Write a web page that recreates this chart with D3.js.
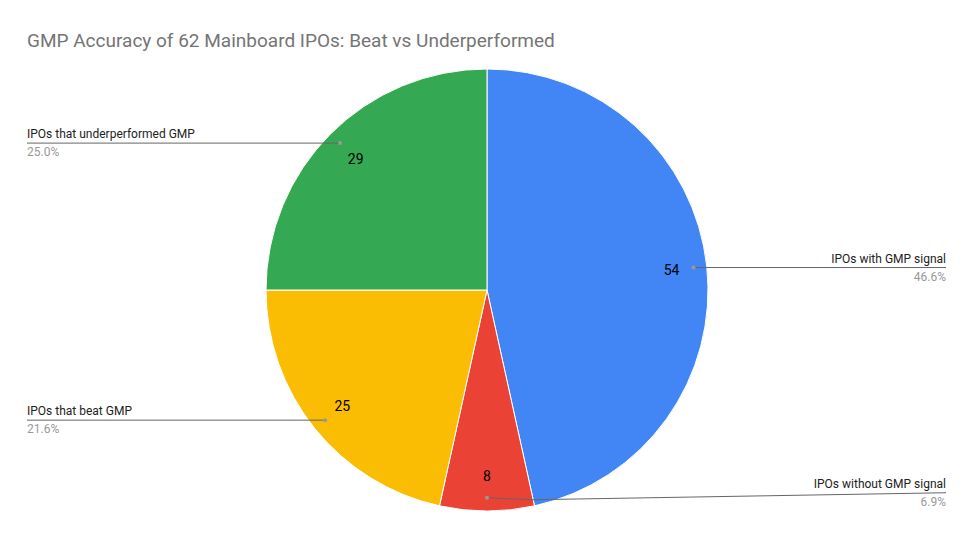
<!DOCTYPE html><html><head><meta charset="utf-8"><script src="https://cdn.jsdelivr.net/npm/d3@7"></script>
<style>body{margin:0;background:#fff}svg{font-family:Roboto,Arial,sans-serif}</style></head><body>
<svg id="c" width="974" height="538"></svg>
<script>
const categories=["IPOs with GMP signal","IPOs without GMP signal","IPOs that beat GMP","IPOs that underperformed GMP"];
const values=[54,8,25,29];
const percents=["46.6%","6.9%","21.6%","25.0%"];
const colors=["#4285f4","#ea4335","#fbbc04","#34a853"];
const svg=d3.select("#c");
svg.append("rect").attr("width",974).attr("height",538).attr("fill","#fff");
svg.append("text").attr("x",27).attr("y",47).attr("font-size",19).attr("fill","#757575").text("GMP Accuracy of 62 Mainboard IPOs: Beat vs Underperformed");
const cx=487,cy=290,R=221;
const g=svg.append("g").attr("transform",`translate(${cx},${cy})`);
const arcs=d3.pie().sort(null).value(d=>d)(values);
const arc=d3.arc().innerRadius(0).outerRadius(R);
g.selectAll("path").data(arcs).join("path").attr("d",arc).attr("fill",(d,i)=>colors[i]).attr("stroke","#fff").attr("stroke-width",1);
const pt=(d,k)=>{const a=(d.startAngle+d.endAngle)/2;return [Math.sin(a)*R*k,-Math.cos(a)*R*k];};
arcs.forEach((d,i)=>{
  const [vx,vy]=pt(d,0.84);
  g.append("text").attr("x",vx).attr("y",vy+5).attr("text-anchor","middle").attr("font-size",14).attr("fill","#000").text(values[i]);
  const [dx,dy]=pt(d,0.94);
  const right=dx>=0;
  const ly=i===1?dy-5:dy;
  const ex=right?946-cx:27-cx;
  g.append("polyline").attr("points",i===1?`${dx},${dy} ${dx+46},${dy+2} ${ex},${ly}`:`${dx},${dy} ${ex},${ly}`).attr("fill","none").attr("stroke","#666").attr("stroke-width",1);
  g.append("circle").attr("cx",dx).attr("cy",dy).attr("r",2).attr("fill","#999");
  const anchor=right?"end":"start";
  g.append("text").attr("x",ex).attr("y",ly-5).attr("text-anchor",anchor).attr("font-size",12).attr("fill","#222").text(categories[i]);
  g.append("text").attr("x",ex).attr("y",ly+13).attr("text-anchor",anchor).attr("font-size",12).attr("fill","#999").text(percents[i]);
});
</script></body></html>
